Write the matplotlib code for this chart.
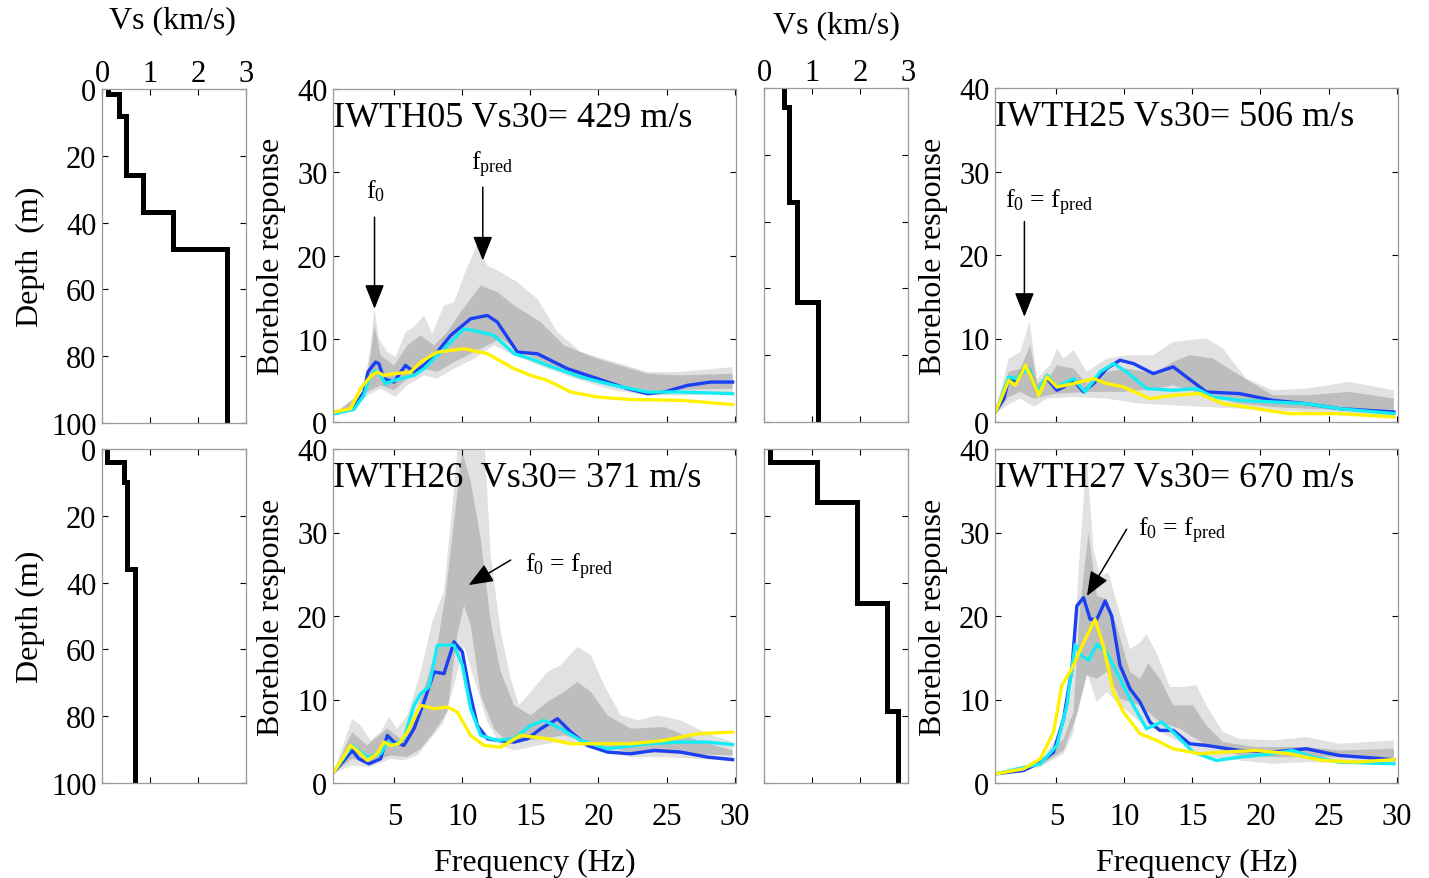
import matplotlib

matplotlib.use("Agg")
import matplotlib.pyplot as plt
import numpy as np

plt.rcParams["font.family"] = ["Liberation Serif", "DejaVu Serif"]
plt.rcParams["mathtext.fontset"] = "custom"
plt.rcParams["mathtext.rm"] = "Liberation Serif"
plt.rcParams["mathtext.it"] = "Liberation Serif:italic"

# ---- Vs profiles: layer boundaries (m) and layer velocities (km/s)
IWTH05_DEPTH = [0, 1.5, 8.2, 25.8, 36.8, 47.8, 100]
IWTH05_VS = [0.13, 0.35, 0.51, 0.85, 1.48, 2.60]
IWTH25_DEPTH = [0, 5.7, 34, 64, 100]
IWTH25_VS = [0.42, 0.52, 0.68, 1.13]
IWTH26_DEPTH = [0, 4, 10, 36, 100]
IWTH26_VS = [0.10, 0.46, 0.53, 0.68]
IWTH27_DEPTH = [0, 4, 16, 46, 78.3, 100]
IWTH27_VS = [0.13, 1.10, 1.93, 2.57, 2.80]

# ---- Borehole responses: (frequency Hz, amplitude)
IWTH05_BLUE = [(0.56, 1.0), (2.03, 1.6), (2.77, 3.6), (3.06, 6.0), (3.63, 7.2), (3.87, 7.0),
               (4.24, 5.2), (4.98, 4.8), (5.47, 6.0), (5.83, 6.8), (6.45, 6.0), (7.18, 6.8),
               (8.16, 8.4), (9.14, 10.4), (10.61, 12.4), (11.84, 12.8), (12.57, 12.0),
               (13.55, 9.6), (14.04, 8.4), (15.51, 8.2), (16.25, 7.6), (17.72, 6.4),
               (19.93, 5.2), (22.13, 4.0), (23.6, 3.4), (24.83, 3.6), (26.54, 4.4),
               (28.26, 4.8), (29.85, 4.8)]
IWTH05_CYAN = [(0.56, 1.0), (2.03, 1.5), (2.77, 3.2), (3.14, 5.2), (3.63, 6.2), (4.0, 5.6),
               (4.36, 4.6), (4.98, 5.0), (6.45, 5.6), (7.18, 6.4), (8.16, 8.0), (9.14, 9.6),
               (10.12, 11.2), (11.35, 10.8), (12.33, 10.4), (13.8, 8.2), (15.02, 7.6),
               (16.25, 6.8), (18.7, 5.4), (21.15, 4.4), (23.6, 3.6), (26.05, 3.6), (29.85, 3.4)]
IWTH05_YELLOW = [(0.56, 1.2), (1.79, 1.6), (2.52, 4.0), (3.26, 5.5), (3.75, 6.0), (4.24, 5.6),
                 (4.98, 5.8), (6.2, 6.0), (6.94, 7.2), (8.16, 8.4), (10.12, 8.8), (11.84, 8.2),
                 (13.8, 6.4), (15.02, 5.6), (16.25, 5.0), (17.97, 3.6), (19.93, 3.0),
                 (22.38, 2.7), (26.05, 2.6), (29.85, 2.1)]
IWTH05_OUTER_HI = [(0.56, 1.0), (2.77, 3.8), (3.26, 9.2), (3.55, 13.6), (3.87, 10.0), (4.49, 8.4),
                   (5.1, 7.8), (5.83, 10.8), (6.45, 11.4), (7.18, 12.8), (7.79, 10.6), (8.65, 14.0),
                   (9.39, 14.4), (10.12, 17.6), (11.1, 21.4), (11.84, 18.8), (12.82, 18.0),
                   (14.04, 16.8), (15.51, 14.8), (16.98, 10.8), (18.7, 8.4), (21.15, 7.2),
                   (23.6, 6.0), (26.05, 6.0), (29.85, 6.6)]
IWTH05_OUTER_LO = [(0.56, 1.0), (2.03, 1.5), (3.01, 3.2), (4.0, 4.0), (5.1, 3.0), (5.96, 4.4),
                   (7.18, 5.6), (8.16, 5.2), (9.39, 6.4), (10.86, 7.6), (12.33, 9.2), (13.8, 8.0),
                   (16.25, 6.4), (18.7, 5.0), (21.15, 3.8), (23.6, 3.2), (26.05, 3.2), (29.85, 3.4)]
IWTH05_INNER_HI = [(0.56, 1.0), (2.77, 3.6), (3.26, 8.0), (3.55, 11.6), (4.0, 8.0), (4.98, 6.8),
                   (5.96, 9.2), (6.94, 10.4), (7.92, 9.2), (8.9, 10.8), (9.88, 13.2), (11.35, 16.4),
                   (12.57, 15.6), (13.8, 14.0), (15.75, 12.0), (17.47, 9.2), (19.93, 7.6),
                   (22.38, 6.4), (23.6, 5.8), (26.05, 5.6), (29.85, 5.8)]
IWTH05_INNER_LO = [(0.56, 1.0), (2.03, 1.6), (3.01, 3.6), (4.0, 4.4), (4.98, 3.8), (5.96, 5.2),
                   (7.18, 6.4), (8.16, 6.0), (9.39, 7.2), (11.35, 8.8), (12.82, 10.0), (14.29, 8.4),
                   (16.25, 7.0), (18.7, 5.6), (21.15, 4.6), (23.6, 3.8), (29.85, 4.0)]

IWTH25_BLUE = [(0.54, 1.2), (1.15, 2.8), (1.51, 5.2), (2.0, 4.8), (2.61, 6.4), (2.98, 6.4),
               (3.59, 3.6), (4.32, 5.2), (5.05, 3.8), (5.54, 4.2), (6.27, 5.0), (7.0, 3.6),
               (7.73, 4.6), (8.71, 6.4), (9.68, 7.4), (10.66, 7.0), (12.12, 5.8), (13.59, 6.6),
               (15.05, 4.8), (16.02, 3.6), (18.46, 3.4), (20.9, 2.6), (23.34, 2.2),
               (25.78, 1.6), (29.8, 1.2)]
IWTH25_CYAN = [(0.54, 1.2), (1.51, 5.4), (2.0, 5.2), (2.61, 6.0), (2.98, 6.4), (3.59, 3.6),
               (4.32, 5.6), (5.05, 4.2), (6.27, 5.2), (7.12, 3.6), (8.22, 6.0), (9.2, 7.0),
               (10.17, 6.0), (11.63, 4.0), (13.59, 3.8), (15.29, 4.0), (16.51, 3.0),
               (18.46, 2.6), (20.9, 2.4), (23.34, 2.2), (25.78, 1.6), (29.8, 1.0)]
IWTH25_YELLOW = [(0.54, 1.2), (1.51, 5.0), (2.0, 4.4), (2.73, 6.8), (3.1, 5.6), (3.71, 3.2),
                 (4.32, 5.4), (5.05, 4.2), (6.27, 4.6), (7.73, 5.2), (8.71, 4.6), (9.93, 4.2),
                 (11.88, 2.8), (13.59, 3.2), (15.54, 3.4), (17.24, 2.2), (19.68, 1.6),
                 (22.12, 1.0), (25.78, 1.0), (29.8, 0.6)]
IWTH25_OUTER_HI = [(0.54, 1.2), (1.51, 7.6), (2.37, 8.4), (3.05, 12.0), (3.59, 5.2), (4.56, 6.8),
                   (5.05, 8.8), (5.54, 7.6), (6.27, 8.6), (7.24, 6.0), (8.71, 7.6), (10.17, 8.0),
                   (12.12, 8.0), (13.59, 9.6), (16.02, 10.0), (17.24, 8.8), (18.95, 5.2),
                   (20.9, 3.8), (23.34, 4.0), (26.51, 4.8), (29.8, 3.8)]
IWTH25_OUTER_LO = [(0.54, 1.0), (1.39, 2.0), (2.37, 2.8), (3.34, 1.8), (4.32, 2.8), (6.27, 3.0),
                   (8.71, 2.8), (11.15, 2.2), (13.59, 2.0), (16.02, 1.8), (18.46, 1.6),
                   (20.9, 1.4), (23.34, 1.2), (29.8, 0.8)]
IWTH25_INNER_HI = [(0.54, 1.2), (1.51, 6.0), (2.37, 6.4), (3.1, 9.2), (3.59, 4.6), (4.56, 5.6),
                   (5.05, 6.8), (6.27, 6.4), (7.24, 4.6), (8.71, 6.0), (10.17, 6.4), (12.12, 5.8),
                   (13.59, 7.2), (14.8, 8.0), (16.51, 7.6), (18.46, 5.6), (20.9, 3.2),
                   (23.34, 3.2), (26.51, 3.6), (29.8, 2.8)]
IWTH25_INNER_LO = [(0.54, 1.1), (1.51, 3.0), (2.37, 3.6), (3.34, 2.8), (5.05, 3.4), (7.49, 3.6),
                   (9.93, 3.6), (12.37, 4.0), (13.59, 4.4), (16.02, 3.2), (18.46, 2.2),
                   (20.9, 1.8), (23.34, 1.6), (29.8, 1.2)]

IWTH26_BLUE = [(0.56, 1.3), (1.3, 2.7), (1.91, 3.9), (2.4, 2.9), (3.14, 2.3), (4.0, 2.9),
               (4.49, 5.7), (4.98, 4.9), (5.71, 4.5), (6.45, 6.5), (7.18, 9.7), (7.92, 13.3),
               (8.65, 13.1), (9.39, 16.9), (10.0, 15.7), (10.49, 11.3), (11.1, 6.9),
               (11.84, 5.3), (12.57, 5.1), (13.8, 4.9), (14.78, 5.3), (15.76, 6.5),
               (16.99, 7.7), (17.97, 6.1), (19.19, 4.5), (20.66, 3.7), (22.38, 3.5),
               (24.09, 3.9), (26.05, 3.7), (28.01, 3.1), (29.85, 2.8)]
IWTH26_CYAN = [(0.56, 1.3), (1.91, 4.5), (3.01, 3.1), (4.0, 3.5), (4.49, 4.9), (4.98, 4.5),
               (5.71, 5.3), (6.45, 9.3), (6.94, 10.7), (7.55, 11.5), (8.16, 16.5), (9.39, 16.5),
               (10.0, 14.1), (10.61, 8.9), (11.35, 5.7), (12.57, 5.1), (13.8, 5.3),
               (15.02, 6.9), (16.0, 7.5), (17.23, 6.5), (18.7, 5.1), (20.66, 4.1),
               (23.6, 4.7), (26.05, 4.9), (28.01, 4.9), (29.85, 4.6)]
IWTH26_YELLOW = [(0.56, 1.3), (1.79, 4.5), (2.28, 3.9), (3.01, 2.7), (3.75, 3.5), (4.24, 4.9),
                 (4.73, 4.5), (5.34, 4.7), (5.96, 6.1), (6.94, 9.3), (7.92, 8.9), (8.9, 9.1),
                 (9.63, 8.5), (10.61, 5.7), (11.59, 4.5), (12.82, 4.3), (14.29, 5.7),
                 (16.25, 5.3), (17.97, 4.7), (19.93, 4.7), (22.38, 4.7), (24.83, 5.1),
                 (27.28, 5.9), (29.85, 6.1)]
IWTH26_OUTER_HI = [(0.56, 1.3), (1.91, 7.7), (2.52, 6.9), (3.26, 5.1), (4.0, 6.1), (4.61, 7.9),
                   (5.22, 6.5), (5.96, 8.1), (6.94, 13.3), (7.79, 19.3), (8.65, 22.9),
                   (9.26, 33.0), (9.75, 42.0), (11.59, 42.0), (12.08, 27.3), (12.82, 18.1),
                   (13.55, 12.5), (14.17, 9.3), (15.02, 10.9), (16.25, 13.3), (17.23, 14.1),
                   (18.46, 16.3), (19.44, 15.3), (20.42, 11.7), (21.64, 8.1), (22.87, 7.5),
                   (24.34, 8.1), (26.05, 7.5), (28.01, 5.9), (29.85, 4.9)]
IWTH26_OUTER_LO = [(0.56, 1.2), (1.91, 2.1), (3.26, 1.9), (4.73, 2.9), (5.71, 2.7), (6.69, 3.3),
                   (7.67, 5.3), (8.65, 7.3), (9.39, 11.7), (10.12, 16.5), (10.86, 12.5),
                   (11.84, 7.3), (12.82, 4.5), (13.8, 3.9), (15.02, 4.3), (17.48, 5.1),
                   (19.93, 3.9), (22.38, 3.1), (24.83, 3.1), (27.28, 2.9), (29.85, 2.6)]
IWTH26_INNER_HI = [(0.56, 1.3), (1.91, 6.1), (3.01, 4.5), (4.49, 6.5), (5.47, 5.3), (6.45, 7.7),
                   (7.43, 12.5), (8.16, 16.5), (8.77, 22.5), (9.39, 31.3), (10.0, 39.7),
                   (10.61, 36.1), (11.35, 29.3), (12.08, 19.3), (12.82, 13.3), (13.8, 9.3),
                   (15.02, 8.1), (16.25, 9.7), (17.48, 10.9), (18.46, 12.1), (19.44, 10.9),
                   (20.66, 8.1), (22.38, 6.5), (24.83, 6.7), (27.28, 5.1), (29.85, 3.9)]
IWTH26_INNER_LO = [(0.56, 1.2), (1.91, 2.9), (3.26, 2.5), (4.73, 3.3), (5.96, 3.1), (6.94, 4.1),
                   (7.92, 6.1), (8.9, 8.5), (9.63, 17.7), (10.12, 21.3), (10.61, 18.9),
                   (11.35, 10.5), (12.33, 6.5), (13.31, 4.9), (15.02, 5.1), (17.48, 5.7),
                   (19.93, 4.5), (22.38, 3.7), (26.05, 3.5), (29.85, 3.3)]

IWTH27_BLUE = [(0.54, 1.1), (2.61, 1.5), (3.83, 2.5), (4.8, 3.7), (5.54, 7.7), (6.15, 13.7),
               (6.51, 21.2), (7.0, 22.2), (7.49, 19.6), (7.98, 19.6), (8.59, 21.8), (9.07, 20.0),
               (9.68, 14.1), (10.41, 11.3), (11.15, 9.7), (11.88, 7.3), (12.61, 6.3),
               (13.59, 6.3), (14.8, 4.7), (16.02, 4.5), (18.46, 3.9), (20.9, 3.7),
               (23.34, 4.1), (25.78, 3.3), (29.8, 2.8)]
IWTH27_CYAN = [(0.54, 1.1), (3.83, 2.3), (5.05, 4.5), (5.78, 9.3), (6.39, 16.6), (6.88, 15.2),
               (7.37, 14.7), (7.98, 16.6), (8.71, 15.6), (9.68, 12.5), (10.66, 9.3), (11.63, 6.5),
               (12.73, 7.3), (13.59, 6.1), (15.05, 3.7), (16.76, 2.7), (18.46, 3.1),
               (20.9, 3.5), (22.37, 3.9), (23.83, 3.1), (25.78, 2.5), (29.8, 2.3)]
IWTH27_YELLOW = [(0.54, 1.1), (2.61, 1.7), (3.83, 2.9), (4.8, 6.1), (5.41, 11.7), (6.15, 13.7),
                 (7.0, 16.8), (7.85, 19.6), (8.46, 16.4), (9.2, 10.9), (9.93, 8.5), (11.15, 5.9),
                 (12.37, 5.1), (13.59, 4.1), (15.54, 3.5), (17.24, 3.7), (19.68, 3.9),
                 (22.12, 3.5), (24.56, 2.7), (27.0, 2.5), (29.8, 2.8)]
IWTH27_OUTER_HI = [(0.54, 1.1), (3.83, 2.5), (5.29, 6.1), (6.15, 11.3), (6.63, 25.2), (7.24, 39.2),
                   (7.73, 28.0), (8.22, 24.8), (8.83, 25.2), (9.44, 21.6), (10.41, 16.0),
                   (11.15, 16.8), (11.63, 17.8), (12.37, 15.6), (13.34, 11.5), (14.32, 11.5),
                   (15.29, 11.7), (16.02, 9.3), (17.24, 6.1), (18.46, 5.3), (20.9, 5.1),
                   (23.34, 5.5), (25.78, 4.7), (29.8, 5.1)]
IWTH27_OUTER_LO = [(0.54, 1.0), (3.83, 1.9), (5.54, 3.5), (6.27, 6.1), (6.76, 11.7), (7.24, 13.3),
                   (7.98, 9.7), (8.71, 10.9), (9.68, 9.3), (11.15, 7.3), (13.59, 5.3),
                   (16.02, 3.1), (18.46, 2.7), (20.9, 2.3), (23.34, 2.5), (29.8, 2.3)]
IWTH27_INNER_HI = [(0.54, 1.1), (3.83, 2.3), (5.54, 5.3), (6.27, 8.5), (6.76, 21.2), (7.37, 30.0),
                   (7.98, 22.4), (8.71, 22.0), (9.44, 18.8), (10.41, 13.3), (11.15, 12.5),
                   (11.76, 14.3), (12.61, 12.5), (13.59, 9.3), (15.05, 9.3), (16.02, 6.9),
                   (17.24, 4.9), (19.68, 4.3), (23.34, 4.3), (25.78, 3.9), (29.8, 4.1)]
IWTH27_INNER_LO = [(0.54, 1.0), (3.83, 2.1), (5.54, 3.9), (6.51, 8.1), (7.24, 12.9), (7.98, 12.5),
                   (8.71, 13.3), (9.68, 10.1), (11.15, 9.3), (12.61, 7.3), (14.07, 6.5),
                   (16.02, 4.5), (18.46, 3.3), (20.9, 3.1), (23.34, 3.1), (29.8, 3.1)]

TITLES = ["IWTH05 Vs30= 429 m/s", "IWTH25 Vs30= 506 m/s",
          "IWTH26  Vs30= 371 m/s", "IWTH27 Vs30= 670 m/s"]

LIGHT = "#e1e1e1"
DARK = "#bdbdbd"
BLUE = "#1b3ff2"
CYAN = "#14ecf5"
YELLOW = "#fff200"
SPINE = "#9a9a9a"

W, H = 1429, 879
TICK_FS = 22
LABEL_FS = 23


def _axes(fig, x0, y0, x1, y1):
    return fig.add_axes([x0 / W, 1 - y1 / H, (x1 - x0) / W, (y1 - y0) / H])


def _style(ax):
    for s in ax.spines.values():
        s.set_color(SPINE)
        s.set_linewidth(0.9)
    ax.tick_params(direction="in", length=4, width=0.8, color="black",
                   top=True, right=True, labelsize=TICK_FS, pad=4)


def vs_panel(ax, depth, vs, top_labels, left_label):
    ax.stairs(vs, depth, orientation="horizontal", baseline=None,
              color="black", linewidth=3.6)
    ax.set_xlim(0, 3)
    ax.set_ylim(100, 0)
    ax.set_xticks([0, 1, 2, 3])
    ax.set_yticks(range(0, 101, 20))
    _style(ax)
    ax.xaxis.set_ticks_position("both")
    ax.tick_params(axis="x", labeltop=top_labels, labelbottom=False, pad=1)
    ax.tick_params(axis="y", labelleft=left_label is not None)
    if left_label:
        ax.set_ylabel(left_label, fontsize=LABEL_FS, labelpad=4)


def band(ax, hi, lo, color):
    pts = hi + lo[::-1]
    ax.fill([p[0] for p in pts], [p[1] for p in pts], color=color, lw=0)


def response_panel(ax, outer, inner, curves, title, bottom_labels):
    band(ax, *outer, LIGHT)
    band(ax, *inner, DARK)
    for data, color in zip(curves, (BLUE, CYAN, YELLOW)):
        ax.plot([p[0] for p in data], [p[1] for p in data], color=color, lw=2.4,
                solid_joinstyle="round")
    ax.set_xlim(0.5, 30.1)
    ax.set_ylim(0, 40)
    ax.set_xticks(range(5, 31, 5))
    ax.set_yticks(range(0, 41, 10))
    _style(ax)
    ax.tick_params(axis="x", labelbottom=bottom_labels, pad=14)
    ax.set_ylabel("Borehole response", fontsize=LABEL_FS, labelpad=8)
    if bottom_labels:
        ax.set_xlabel("Frequency (Hz)", fontsize=LABEL_FS, labelpad=12)
    ax.text(0.0, 0.915, title, transform=ax.transAxes, fontsize=26,
            ha="left", va="center")


def arrow(ax, tip, tail):
    ax.annotate("", xy=tip, xytext=tail,
                arrowprops=dict(arrowstyle="-|>,head_length=0.75,head_width=0.3",
                                color="black", lw=1.1, mutation_scale=20,
                                shrinkA=0, shrinkB=0))


fig = plt.figure(figsize=(W / 100, H / 100), dpi=100)

ax = _axes(fig, 102, 90, 246, 424)
vs_panel(ax, IWTH05_DEPTH, IWTH05_VS, True, "Depth  (m)")
ax = _axes(fig, 764, 89, 908, 423)
vs_panel(ax, IWTH25_DEPTH, IWTH25_VS, True, None)
ax = _axes(fig, 102, 450, 246, 784)
vs_panel(ax, IWTH26_DEPTH, IWTH26_VS, False, "Depth (m)")
ax = _axes(fig, 764, 450, 908, 784)
vs_panel(ax, IWTH27_DEPTH, IWTH27_VS, False, None)

fig.text(172 / W, 1 - 21 / H, "Vs (km/s)", fontsize=LABEL_FS, ha="center", va="center")
fig.text(836 / W, 1 - 26 / H, "Vs (km/s)", fontsize=LABEL_FS, ha="center", va="center")

lbl_eq = r"f$_\mathrm{0}$ = f$_\mathrm{pred}$"

ax = _axes(fig, 333, 90, 736, 423)
response_panel(ax, (IWTH05_OUTER_HI, IWTH05_OUTER_LO), (IWTH05_INNER_HI, IWTH05_INNER_LO),
               (IWTH05_BLUE, IWTH05_CYAN, IWTH05_YELLOW), TITLES[0], False)
arrow(ax, (3.55, 13.6), (3.55, 24.6))
ax.text(3.6, 27.8, r"f$_\mathrm{0}$", fontsize=18.5, ha="center", va="center")
arrow(ax, (11.5, 19.4), (11.5, 28.2))
ax.text(12.2, 31.0, r"f$_\mathrm{pred}$", fontsize=18.5, ha="center", va="center")

ax = _axes(fig, 995, 89, 1398, 423)
response_panel(ax, (IWTH25_OUTER_HI, IWTH25_OUTER_LO), (IWTH25_INNER_HI, IWTH25_INNER_LO),
               (IWTH25_BLUE, IWTH25_CYAN, IWTH25_YELLOW), TITLES[1], False)
arrow(ax, (2.66, 12.6), (2.66, 24.0))
ax.text(1.2, 26.3, lbl_eq, fontsize=18.5, ha="left", va="center")

ax = _axes(fig, 333, 450, 736, 784)
response_panel(ax, (IWTH26_OUTER_HI, IWTH26_OUTER_LO), (IWTH26_INNER_HI, IWTH26_INNER_LO),
               (IWTH26_BLUE, IWTH26_CYAN, IWTH26_YELLOW), TITLES[2], True)
arrow(ax, (10.46, 23.7), (13.55, 26.7))
ax.text(14.6, 26.0, lbl_eq, fontsize=18.5, ha="left", va="center")

ax = _axes(fig, 995, 450, 1398, 784)
response_panel(ax, (IWTH27_OUTER_HI, IWTH27_OUTER_LO), (IWTH27_INNER_HI, IWTH27_INNER_LO),
               (IWTH27_BLUE, IWTH27_CYAN, IWTH27_YELLOW), TITLES[3], True)
arrow(ax, (7.25, 22.4), (10.17, 30.4))
ax.text(11.0, 30.3, lbl_eq, fontsize=18.5, ha="left", va="center")

fig.savefig("out.png", dpi=100)
plt.close(fig)
